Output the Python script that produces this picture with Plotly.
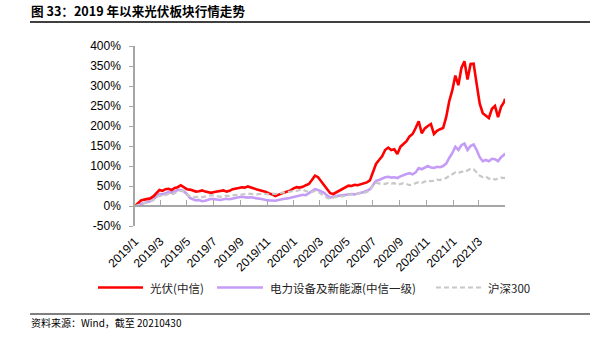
import pandas as pd
import plotly.graph_objects as go

# Weekly observations (cumulative return since 2019-01-02, %), last point 2021-04-30
dates = list(pd.date_range("2019-01-02", periods=122, freq="7D").strftime("%Y-%m-%d")) + ["2021-04-30"]

pv_citic = [
    0, 8, 14, 16, 18, 19, 24, 33, 40, 38,
    42, 43, 40, 45, 47, 52, 46, 42, 41, 38,
    36, 37, 39, 36, 34, 33, 35, 36, 38, 39,
    36, 38, 42, 43, 45, 47, 46, 49, 47, 44,
    41, 39, 37, 35, 31, 29, 25, 29, 31, 34,
    36, 39, 44, 47, 46, 48, 52, 55, 65, 76,
    72, 63, 52, 42, 32, 30, 34, 38, 43, 48,
    51, 50, 53, 52, 54, 56, 59, 64, 85, 105,
    115, 124, 140, 146, 140, 142, 130, 148, 155, 162,
    174, 180, 195, 212, 182, 194, 200, 205, 180, 188,
    192, 195, 222, 262, 289, 326, 302, 345, 362, 316,
    355, 356, 305, 256, 232, 225, 220, 243, 250, 222,
    248, 260, 268,
]

power_equip = [
    0, 3, 6, 8, 10, 12, 16, 24, 30, 29,
    33, 35, 33, 37, 40, 40, 37, 30, 20, 17,
    14, 15, 12, 13, 16, 18, 17, 16, 15, 17,
    18, 17, 19, 21, 22, 23, 22, 21, 22, 20,
    19, 18, 16, 15, 14, 13, 13, 15, 17, 18,
    19, 21, 22, 25, 27, 28, 27, 32, 38, 42,
    40, 36, 33, 26, 21, 23, 25, 26, 27, 28,
    29, 30, 29, 31, 32, 35, 38, 42, 52, 63,
    65, 69, 72, 73, 71, 72, 70, 74, 78, 80,
    82, 79, 84, 95, 92, 97, 100, 96, 95, 98,
    97, 100, 106, 120, 132, 148, 140, 152, 156, 140,
    150, 154, 140, 122, 112, 115, 112, 118, 117, 112,
    122, 128, 132,
]

hs300 = [
    0, 2, 5, 7, 9, 12, 15, 22, 26, 25,
    28, 30, 28, 33, 36, 38, 36, 28, 24, 22,
    23, 21, 22, 24, 26, 27, 26, 25, 23, 24,
    26, 25, 27, 28, 27, 29, 30, 31, 30, 29,
    29, 30, 31, 30, 29, 31, 30, 32, 33, 34,
    34, 36, 38, 38, 40, 41, 37, 36, 35, 38,
    36, 30, 27, 20, 18, 21, 24, 25, 24, 27,
    28, 29, 30, 30, 32, 33, 35, 40, 50, 58,
    56, 57, 55, 58, 56, 57, 53, 56, 57, 55,
    52, 54, 57, 60, 58, 61, 64, 62, 63, 66,
    65, 68, 70, 75, 80, 84, 82, 86, 85, 90,
    93, 92, 85, 76, 72, 74, 68, 70, 66, 68,
    71, 70, 72,
]

series_names = ["光伏(中信)", "电力设备及新能源(中信一级)", "沪深300"]

tick_dates = ["2019-01-02", "2019-03-01", "2019-05-01", "2019-07-01", "2019-09-01",
              "2019-11-01", "2020-01-01", "2020-03-01", "2020-05-01", "2020-07-01",
              "2020-09-01", "2020-11-01", "2021-01-01", "2021-03-01", "2021-04-30"]
tick_labels = ["2019/1", "2019/3", "2019/5", "2019/7", "2019/9", "2019/11", "2020/1",
               "2020/3", "2020/5", "2020/7", "2020/9", "2020/11", "2021/1", "2021/3", ""]

y_ticks = [-50, 0, 50, 100, 150, 200, 250, 300, 350, 400]
y_labels = [f"{v}%" for v in y_ticks]

title_text = "图 33：2019 年以来光伏板块行情走势"
source_text = "资料来源：Wind，截至 20210430"

# ---- page geometry (pixels) ----
W, H = 606, 341
L, R, T, B = 135, 101, 46, 115
PW, PH = W - L - R, H - T - B
Y_MIN, Y_MAX = -50, 400


def fx(px):
    return (px - L) / PW


def fy(py):
    return (H - B - py) / PH


RED = "#FF0000"
PURPLE = "#C49CF7"
GREY = "#C8C8C8"
AXIS = "#A6A6A6"
CJK = "Noto Sans CJK SC"
LATIN = "Liberation Sans, Arial, sans-serif"

fig = go.Figure()
fig.add_trace(go.Scatter(x=dates, y=power_equip, name=series_names[1], mode="lines",
                         line=dict(color=PURPLE, width=2.6), showlegend=False))
fig.add_trace(go.Scatter(x=dates, y=pv_citic, name=series_names[0], mode="lines",
                         line=dict(color=RED, width=2.6), showlegend=False))
# the index series sits on the zero-crossing axis so that axis is drawn
fig.add_trace(go.Scatter(x=dates, y=hs300, name=series_names[2], mode="lines",
                         line=dict(color=GREY, width=2.2, dash="5px,3px"),
                         xaxis="x2", yaxis="y", showlegend=False))

x_range = [dates[0], dates[-1]]

fig.update_layout(
    width=W, height=H,
    margin=dict(l=L, r=R, t=T, b=B, pad=0),
    paper_bgcolor="white", plot_bgcolor="white",
    xaxis=dict(
        type="date", range=x_range,
        tickmode="array", tickvals=tick_dates, ticktext=tick_labels,
        tickangle=-45, ticks="", showline=False, showgrid=False, zeroline=False,
        tickfont=dict(family=LATIN, size=12, color="#000"),
        ticklabelstandoff=5,
    ),
    xaxis2=dict(
        type="date", range=x_range, overlaying="x", anchor="free",
        position=(0 - Y_MIN) / (Y_MAX - Y_MIN),
        tickmode="array", tickvals=tick_dates, showticklabels=False,
        ticks="inside", ticklen=5, tickwidth=1.2, tickcolor=AXIS,
        showline=True, linecolor=AXIS, linewidth=1.5,
        showgrid=False, zeroline=False,
    ),
    yaxis=dict(
        range=[Y_MIN, Y_MAX], tickmode="array", tickvals=y_ticks, ticktext=y_labels,
        ticks="outside", ticklen=4, tickwidth=1.2, tickcolor=AXIS,
        showline=True, linecolor=AXIS, linewidth=1.5,
        showgrid=False, zeroline=False,
        tickfont=dict(family=LATIN, size=12, color="#000"),
        ticklabelstandoff=6,
    ),
)

shapes = [
    # rule under the heading and above the source note
    dict(type="line", xref="paper", yref="paper", x0=fx(30), x1=fx(590), y0=fy(22), y1=fy(22),
         line=dict(color="#000", width=1.4)),
    dict(type="line", xref="paper", yref="paper", x0=fx(30), x1=fx(590), y0=fy(314), y1=fy(314),
         line=dict(color="#000", width=1.2)),
]

annotations = [
    dict(text=f"<b>{title_text}</b>", xref="paper", yref="paper", x=fx(29), y=fy(10.5),
         xanchor="left", yanchor="middle", showarrow=False,
         font=dict(family=CJK, size=12.6, color="#000")),
    dict(text=source_text, xref="paper", yref="paper", x=fx(29), y=fy(322),
         xanchor="left", yanchor="middle", showarrow=False,
         font=dict(family=CJK, size=10, color="#000")),
]

# legend row
legend_items = [
    (series_names[0], RED, "solid", 2.6, 98, 143, 148),
    (series_names[1], PURPLE, "solid", 2.6, 217, 263, 268),
    (series_names[2], GREY, "5px,3px", 2.0, 436, 481, 486),
]
LEG_Y = 287.5
for name, color, dash, width, x0, x1, tx in legend_items:
    shapes.append(dict(type="line", xref="paper", yref="paper", x0=fx(x0), x1=fx(x1),
                       y0=fy(LEG_Y), y1=fy(LEG_Y), line=dict(color=color, width=width, dash=dash)))
    annotations.append(dict(text=name, xref="paper", yref="paper", x=fx(tx), y=fy(LEG_Y),
                            xanchor="left", yanchor="middle", showarrow=False,
                            font=dict(family=CJK, size=11.5, color="#222")))

fig.update_layout(shapes=shapes, annotations=annotations)

fig.write_html("out.html")
